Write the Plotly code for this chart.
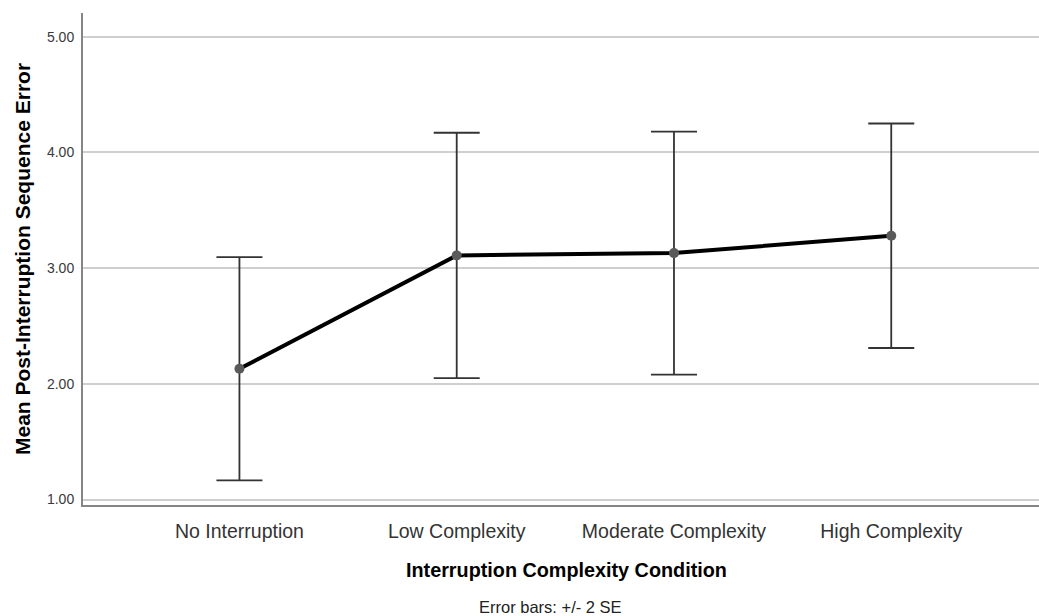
import plotly.graph_objects as go

categories = ["No Interruption", "Low Complexity", "Moderate Complexity", "High Complexity"]
means = [2.13, 3.11, 3.13, 3.28]
errors_2se = [0.965, 1.06, 1.05, 0.97]
y_ticks = [1, 2, 3, 4, 5]
y_tick_labels = ["1.00", "2.00", "3.00", "4.00", "5.00"]

FONT = "Liberation Sans, Arial, sans-serif"

fig = go.Figure()
fig.add_trace(go.Scatter(
    x=categories, y=means, mode="lines+markers",
    line=dict(color="#000000", width=4),
    marker=dict(color="#5a5a5a", size=10),
    error_y=dict(type="data", array=errors_2se, visible=True,
                 color="#333333", thickness=1.8, width=23),
    showlegend=False, hoverinfo="skip",
))

fig.update_layout(
    width=1039, height=616,
    margin=dict(l=83, r=0, t=13, b=111),
    paper_bgcolor="white", plot_bgcolor="white",
    font=dict(family=FONT, color="#333333"),
    xaxis=dict(
        type="category", range=[-0.72, 3.68],
        showline=True, linecolor="#858585", linewidth=2,
        showgrid=False, zeroline=False,
        ticks="", ticklabelstandoff=8,
        tickfont=dict(size=19.5, color="#333333"),
    ),
    yaxis=dict(
        range=[0.953, 5.205],
        tickvals=y_ticks, ticktext=y_tick_labels,
        showline=True, linecolor="#858585", linewidth=2,
        showgrid=True, gridcolor="#cfcfcf", gridwidth=2,
        zeroline=False, ticks="", ticklabelstandoff=4,
        tickfont=dict(size=14, color="#3a3a3a"),
    ),
    annotations=[
        dict(text="<b>Mean Post-Interruption Sequence Error</b>", textangle=-90,
             xref="paper", yref="paper", x=0, y=0.5, xshift=-61,
             xanchor="center", yanchor="middle", showarrow=False,
             font=dict(size=21, color="#000000", family=FONT)),
        dict(text="<b>Interruption Complexity Condition</b>",
             xref="paper", yref="paper", x=0.5, y=0, xshift=5, yshift=-65,
             xanchor="center", yanchor="middle", showarrow=False,
             font=dict(size=19.8, color="#000000", family=FONT)),
        dict(text="Error bars: +/- 2 SE",
             xref="paper", yref="paper", x=0.5, y=0, xshift=-11, yshift=-102,
             xanchor="center", yanchor="middle", showarrow=False,
             font=dict(size=16.5, color="#222222", family=FONT)),
    ],
)

fig.write_html("out.html")
